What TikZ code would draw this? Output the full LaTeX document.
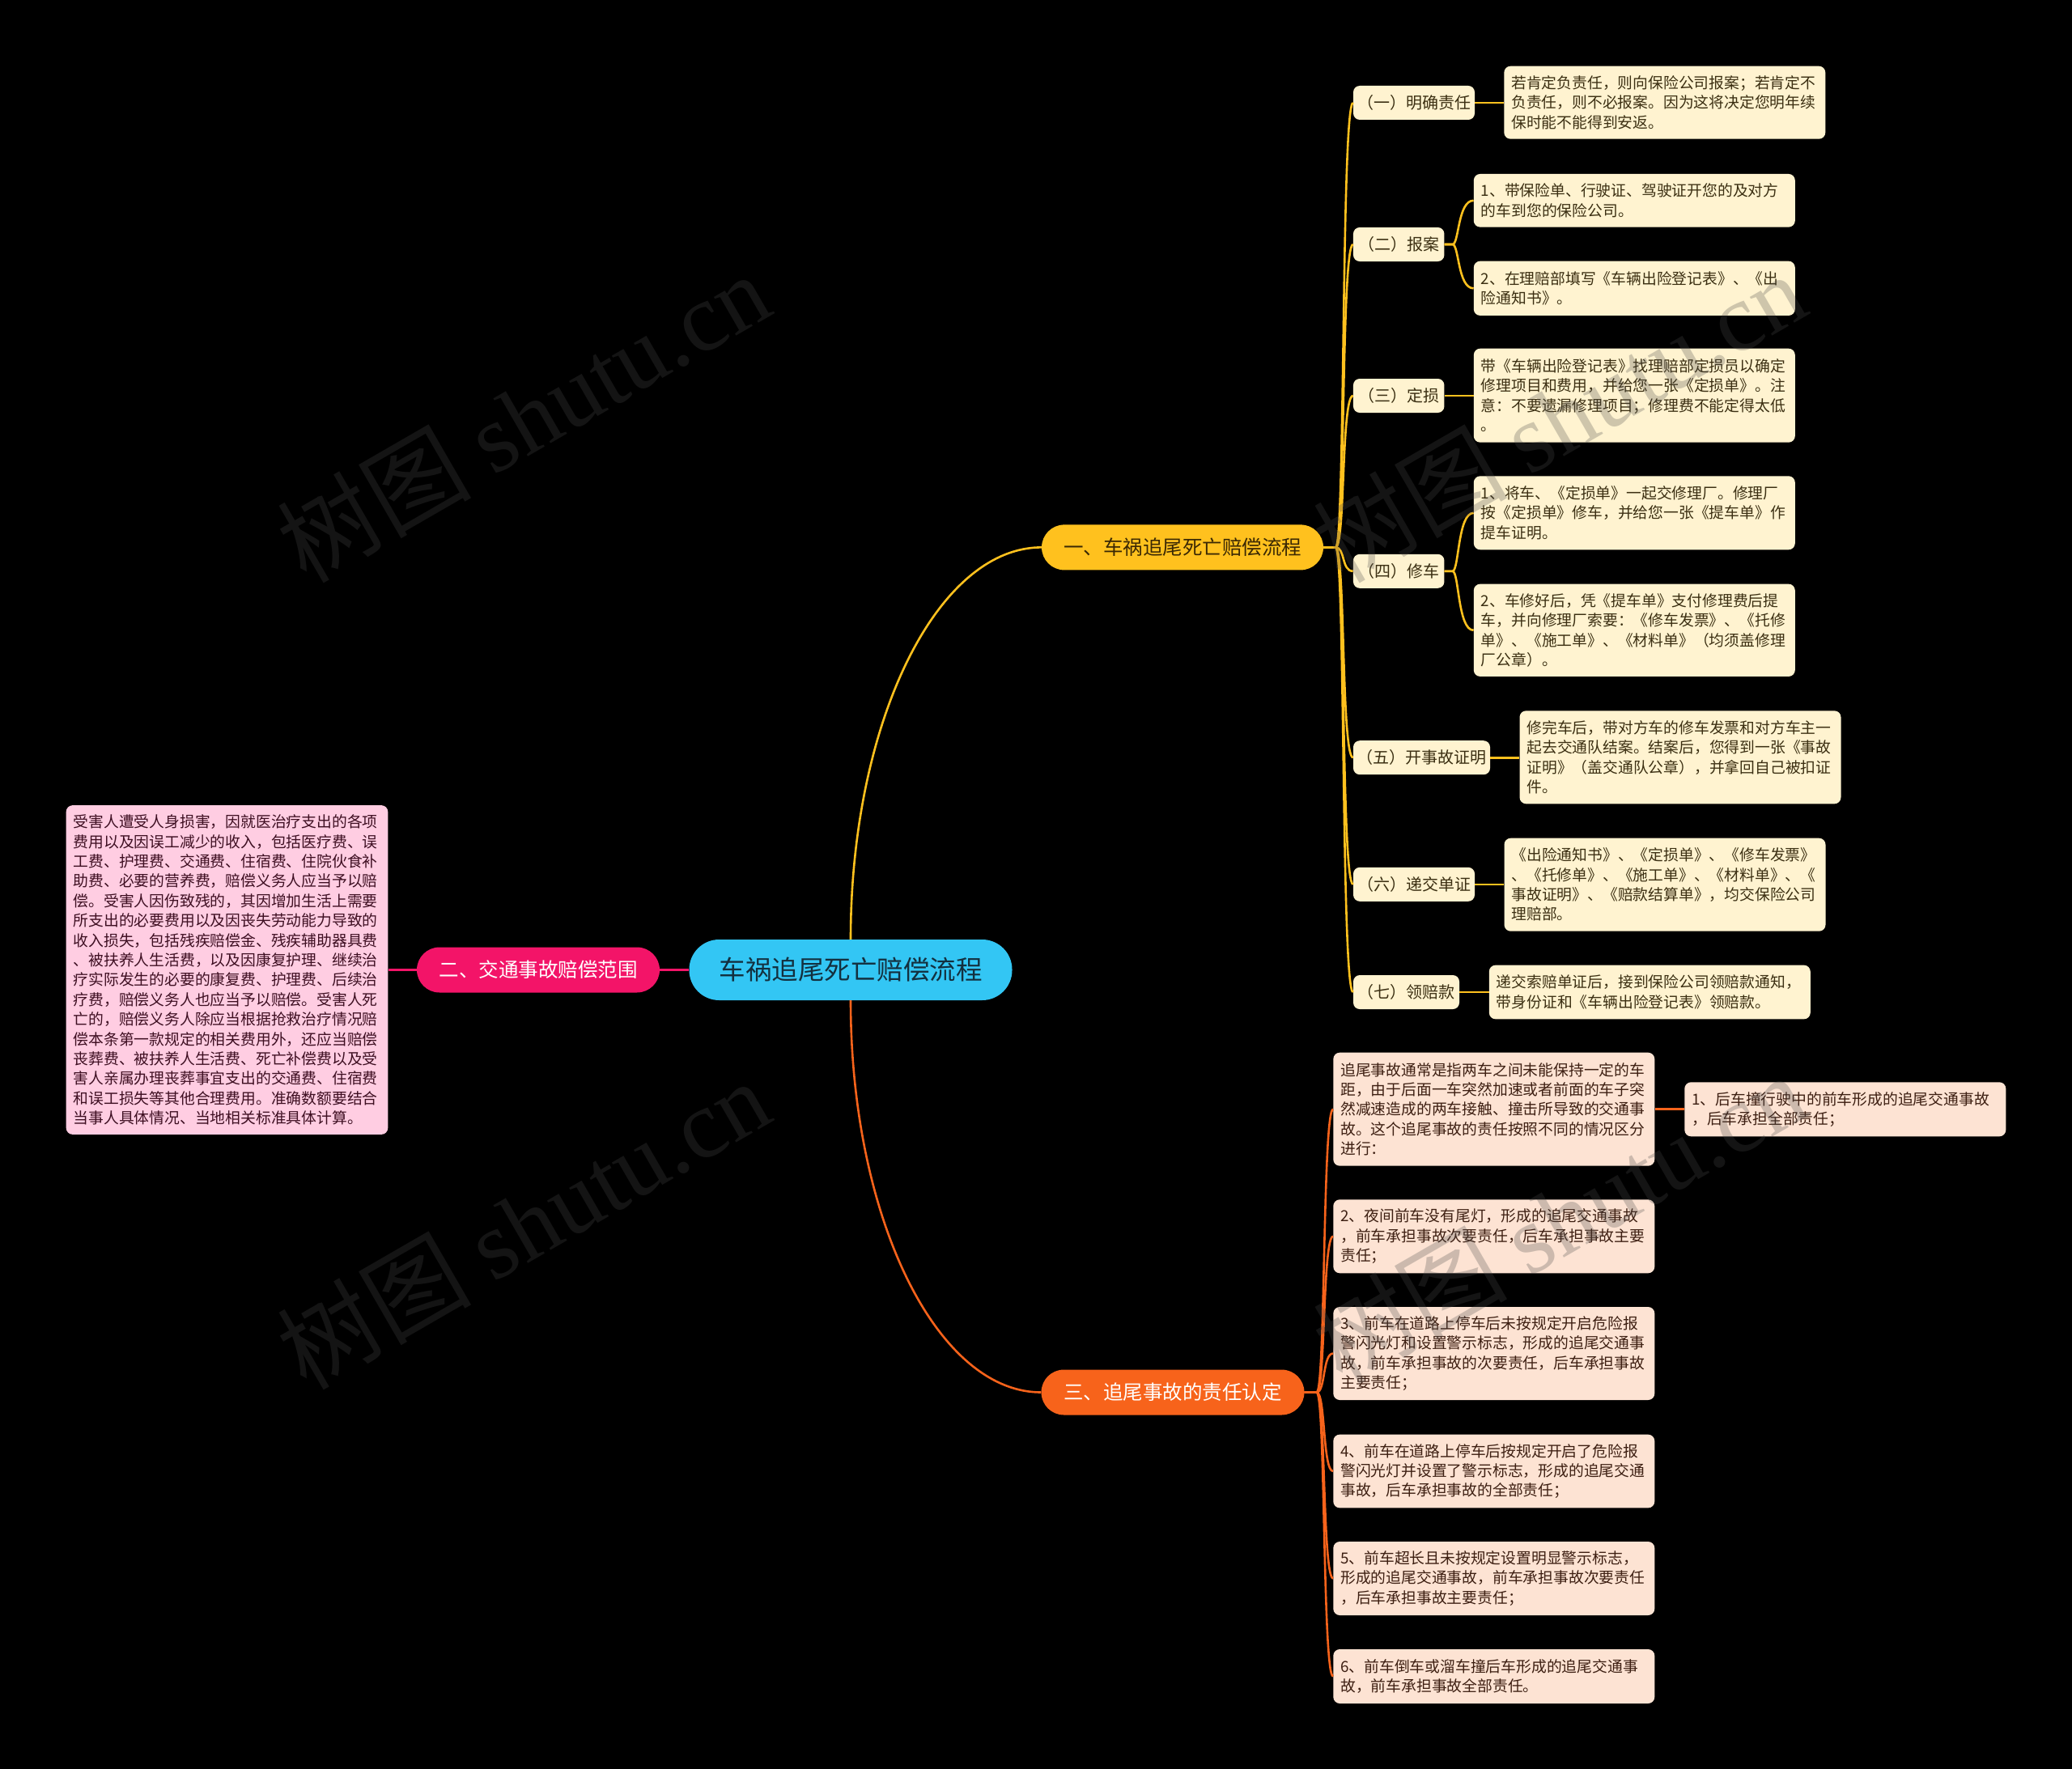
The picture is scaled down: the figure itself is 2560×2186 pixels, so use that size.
\documentclass[tikz,border=0pt]{standalone}
\usepackage{fontspec}
\setmainfont{Noto Sans CJK SC}
\newfontfamily\wmserif{Liberation Serif}
\definecolor{rootc}{HTML}{33C6F4}
\definecolor{roottxt}{HTML}{13303F}
\definecolor{ylw}{HTML}{FFC11E}
\definecolor{ylwtxt}{HTML}{3A2804}
\definecolor{pnk}{HTML}{F31468}
\definecolor{org}{HTML}{F7631B}
\definecolor{cream}{HTML}{FFF3D0}
\definecolor{creamtxt}{HTML}{3B2F12}
\definecolor{pinkleaf}{HTML}{FFCDE2}
\definecolor{pinktxt}{HTML}{3E0F22}
\definecolor{peach}{HTML}{FDE3D3}
\definecolor{peachtxt}{HTML}{3D1F12}
\definecolor{wmc}{HTML}{4A4A4A}
\tikzset{
  rootbox/.style={fill=rootc, text=roottxt, rounded corners=37pt, minimum width=399pt, minimum height=75pt, inner sep=0pt, font=\fontsize{32.5pt}{36pt}\selectfont},
  brbox/.style={rounded corners=28pt, minimum height=56pt, inner sep=0pt, font=\fontsize{24.5pt}{28pt}\selectfont},
  labbox/.style={fill=cream, text=creamtxt, rounded corners=8pt, minimum height=42pt, inner sep=0pt, font=\fontsize{20pt}{24pt}\selectfont},
  leafbox/.style={rounded corners=8pt, inner xsep=9pt, inner ysep=0pt, align=left, text width=379pt, font=\fontsize{18.8pt}{24.4pt}\selectfont},
  yleaf/.style={leafbox, fill=cream, text=creamtxt},
  pleaf/.style={leafbox, fill=peach, text=peachtxt},
  cy/.style={draw=ylw, line width=2.6pt},
  cp/.style={draw=pnk, line width=2.6pt},
  co/.style={draw=org, line width=2.6pt},
  wmark/.style={text=wmc, opacity=0.27, rotate=30, inner sep=0pt, font=\fontsize{120pt}{120pt}\selectfont}
}
\begin{document}
\begin{tikzpicture}[x=1pt,y=-1pt]
\useasboundingbox (0,0) rectangle (2560,2186);
\fill[black] (0,0) rectangle (2560,2186);

% root and branches
\node[rootbox] (root) at (1051,1198.5) {车祸追尾死亡赔偿流程};
\node[brbox, fill=ylw, text=ylwtxt, minimum width=348pt] (b1) at (1461,676.4) {一、车祸追尾死亡赔偿流程};
\node[brbox, fill=pnk, text=white, minimum width=300pt] (b2) at (665,1198.5) {二、交通事故赔偿范围};
\node[brbox, fill=org, text=white, minimum width=325pt] (b3) at (1449,1720.5) {三、追尾事故的责任认定};

% branch 2 leaf
\node[leafbox, fill=pinkleaf, text=pinktxt, text width=379.6pt, minimum height=406.7pt] (pk) at (280.5,1198.5) {受害人遭受人身损害，因就医治疗支出的各项\\费用以及因误工减少的收入，包括医疗费、误\\工费、护理费、交通费、住宿费、住院伙食补\\助费、必要的营养费，赔偿义务人应当予以赔\\偿。受害人因伤致残的，其因增加生活上需要\\所支出的必要费用以及因丧失劳动能力导致的\\收入损失，包括残疾赔偿金、残疾辅助器具费\\、被扶养人生活费，以及因康复护理、继续治\\疗实际发生的必要的康复费、护理费、后续治\\疗费，赔偿义务人也应当予以赔偿。受害人死\\亡的，赔偿义务人除应当根据抢救治疗情况赔\\偿本条第一款规定的相关费用外，还应当赔偿\\丧葬费、被扶养人生活费、死亡补偿费以及受\\害人亲属办理丧葬事宜支出的交通费、住宿费\\和误工损失等其他合理费用。准确数额要结合\\当事人具体情况、当地相关标准具体计算。};

% branch 1 labels
\node[labbox, minimum width=150pt] (c1) at (1747,127) {（一）明确责任};
\node[labbox, minimum width=112.5pt] (c2) at (1728.2,302) {（二）报案};
\node[labbox, minimum width=112.5pt] (c3) at (1728.2,489) {（三）定损};
\node[labbox, minimum width=112.5pt] (c4) at (1728.2,705.8) {（四）修车};
\node[labbox, minimum width=169pt] (c5) at (1756.5,936.2) {（五）开事故证明};
\node[labbox, minimum width=150pt] (c6) at (1747,1092.8) {（六）递交单证};
\node[labbox, minimum width=131pt] (c7) at (1737.5,1226) {（七）领赔款};

% branch 1 leaves
\node[yleaf, minimum height=90pt] (l1) at (2056.8,126.7) {若肯定负责任，则向保险公司报案；若肯定不\\负责任，则不必报案。因为这将决定您明年续\\保时能不能得到安返。};
\node[yleaf, minimum height=65.7pt] (l2a) at (2019.3,247.8) {1、带保险单、行驶证、驾驶证开您的及对方\\的车到您的保险公司。};
\node[yleaf, minimum height=67.3pt] (l2b) at (2019.3,356.3) {2、在理赔部填写《车辆出险登记表》、《出\\险通知书》。};
\node[yleaf, minimum height=116pt] (l3) at (2019.3,488.7) {带《车辆出险登记表》找理赔部定损员以确定\\修理项目和费用，并给您一张《定损单》。注\\意：不要遗漏修理项目；修理费不能定得太低\\。};
\node[yleaf, minimum height=91pt] (l4a) at (2019.3,633.8) {1、将车、《定损单》一起交修理厂。修理厂\\按《定损单》修车，并给您一张《提车单》作\\提车证明。};
\node[yleaf, minimum height=114.3pt] (l4b) at (2019.3,778.8) {2、车修好后，凭《提车单》支付修理费后提\\车，并向修理厂索要：《修车发票》、《托修\\单》、《施工单》、《材料单》（均须盖修理\\厂公章）。};
\node[yleaf, minimum height=115pt] (l5) at (2076,935.8) {修完车后，带对方车的修车发票和对方车主一\\起去交通队结案。结案后，您得到一张《事故\\证明》（盖交通队公章），并拿回自己被扣证\\件。};
\node[yleaf, minimum height=115pt] (l6) at (2057,1093.2) {《出险通知书》、《定损单》、《修车发票》\\、《托修单》、《施工单》、《材料单》、《\\事故证明》、《赔款结算单》，均交保险公司\\理赔部。};
\node[yleaf, minimum height=66.7pt] (l7) at (2038.3,1226) {递交索赔单证后，接到保险公司领赔款通知，\\带身份证和《车辆出险登记表》领赔款。};

% branch 3 leaves
\node[pleaf, minimum height=140pt] (r1) at (1845.8,1370.7) {追尾事故通常是指两车之间未能保持一定的车\\距，由于后面一车突然加速或者前面的车子突\\然减速造成的两车接触、撞击所导致的交通事\\故。这个追尾事故的责任按照不同的情况区分\\进行：};
\node[pleaf, minimum height=67pt] (r1a) at (2279.8,1370.8) {1、后车撞行驶中的前车形成的追尾交通事故\\，后车承担全部责任；};
\node[pleaf, minimum height=91pt] (r2) at (1845.8,1527.8) {2、夜间前车没有尾灯，形成的追尾交通事故\\，前车承担事故次要责任，后车承担事故主要\\责任；};
\node[pleaf, minimum height=115pt] (r3) at (1845.8,1672.5) {3、前车在道路上停车后未按规定开启危险报\\警闪光灯和设置警示标志，形成的追尾交通事\\故，前车承担事故的次要责任，后车承担事故\\主要责任；};
\node[pleaf, minimum height=90.7pt] (r4) at (1845.8,1818) {4、前车在道路上停车后按规定开启了危险报\\警闪光灯并设置了警示标志，形成的追尾交通\\事故，后车承担事故的全部责任；};
\node[pleaf, minimum height=91pt] (r5) at (1845.8,1950.5) {5、前车超长且未按规定设置明显警示标志，\\形成的追尾交通事故，前车承担事故次要责任\\，后车承担事故主要责任；};
\node[pleaf, minimum height=67pt] (r6) at (1845.8,2071.5) {6、前车倒车或溜车撞后车形成的追尾交通事\\故，前车承担事故全部责任。};

% connectors: root to branches
\draw[cy] (root.north) .. controls (1051,894) and (1157,676.4) .. (b1.west);
\draw[co] (root.south) .. controls (1051,1504) and (1157,1720.5) .. (b3.west);
\draw[cp] (root.west) -- (b2.east);
\draw[cp] (b2.west) -- (pk.east);

% branch 1 fan
\coordinate (b1j) at ([xshift=15pt]b1.east);
\coordinate (b1k) at ([xshift=27pt]b1.east);
\coordinate (ys) at (1657,0);
\foreach \c in {c1,c2,c3,c4,c5,c6,c7}
  \draw[cy] (b1.east) -- (b1j) .. controls (b1k) and (ys |- \c.west) .. (\c.west);

% sub fans
\coordinate (c2j) at ([xshift=10pt]c2.east);
\coordinate (c2k) at ([xshift=18pt]c2.east);
\coordinate (ys2) at (1801,0);
\foreach \c in {l2a,l2b}
  \draw[cy] (c2.east) -- (c2j) .. controls (c2k) and (ys2 |- \c.west) .. (\c.west);
\coordinate (c4j) at ([xshift=10pt]c4.east);
\coordinate (c4k) at ([xshift=18pt]c4.east);
\foreach \c in {l4a,l4b}
  \draw[cy] (c4.east) -- (c4j) .. controls (c4k) and (ys2 |- \c.west) .. (\c.west);

% straight label-leaf links
\draw[cy] (c1.east) -- (c1.east -| l1.west);
\draw[cy] (c3.east) -- (c3.east -| l3.west);
\draw[cy] (c5.east) -- (c5.east -| l5.west);
\draw[cy] (c6.east) -- (c6.east -| l6.west);
\draw[cy] (c7.east) -- (c7.east -| l7.west);

% branch 3 fan
\coordinate (b3j) at ([xshift=15pt]b3.east);
\coordinate (b3k) at ([xshift=26pt]b3.east);
\coordinate (ys3) at (1634,0);
\foreach \c in {r1,r2,r3,r4,r5,r6}
  \draw[co] (b3.east) -- (b3j) .. controls (b3k) and (ys3 |- \c.west) .. (\c.west);
\draw[co] (r1.east) -- (r1.east -| r1a.west);

% watermarks
\node[wmark] (w1) at (646,515) {树图 {\wmserif shutu.cn}};
\node[wmark] (w2) at (1926,515) {树图 {\wmserif shutu.cn}};
\node[wmark] (w3) at (646,1512) {树图 {\wmserif shutu.cn}};
\node[wmark] (w4) at (1926,1505) {树图 {\wmserif shutu.cn}};
\end{tikzpicture}
\end{document}
